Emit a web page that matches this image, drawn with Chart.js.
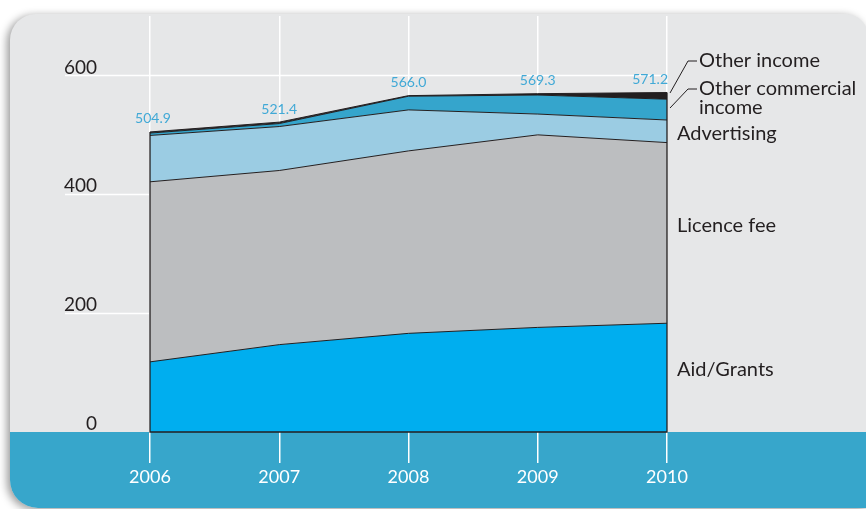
<!DOCTYPE html>
<html>
<head>
<meta charset="utf-8">
<script src="https://cdn.jsdelivr.net/npm/chart.js@4"></script>
<style>
  body { margin: 0; background: #fff; }
  canvas { display: block; }
</style>
</head>
<body>
<canvas id="AreaChart" width="866" height="509"></canvas>
<script>
// values (stacked, bottom to top)
const years = ['2006', '2007', '2008', '2009', '2010'];
const aidGrants = [118, 147, 166, 176, 183];
const licenceFee = [303, 293, 307, 324, 304];
const advertising = [78, 74, 69, 35, 38];
const otherCommercial = [4, 5, 23, 32, 35];
const otherIncome = [1.9, 2.4, 1, 2.3, 11.2];
const totals = ['504.9', '521.4', '566.0', '569.3', '571.2'];
const yTicks = [0, 200, 400, 600];

const ink = '#231f20';

const panelPlugin = {
    id: 'panel',
    beforeDraw(chart) {
        const c = chart.ctx;
        const area = chart.chartArea;
        c.save();
        // grey card with soft shadow
        c.beginPath();
        c.roundRect(10, 14, 858, 494, [26, 22, 0, 28]);
        c.shadowColor = 'rgba(0,0,0,0.4)';
        c.shadowBlur = 9;
        c.shadowOffsetX = -3;
        c.shadowOffsetY = 2;
        c.fillStyle = '#e6e7e8';
        c.fill();
        c.shadowColor = 'transparent';
        c.clip();
        // blue band under the plot
        c.fillStyle = '#37a6cb';
        c.fillRect(0, area.bottom, chart.width, chart.height - area.bottom);
        // horizontal grid lines
        const y = chart.scales.y;
        c.strokeStyle = '#ffffff';
        c.lineWidth = 1.5;
        yTicks.forEach(v => {
            if (v === 0) return;
            const py = Math.round(y.getPixelForValue(v)) + 0.5;
            c.beginPath();
            c.moveTo(65, py);
            c.lineTo(area.right, py);
            c.stroke();
        });
        c.restore();
    },
    afterDatasetsDraw(chart) {
        const c = chart.ctx;
        const area = chart.chartArea;
        const top = chart.getDatasetMeta(4).data;
        c.save();
        // outline of the stack
        c.strokeStyle = ink;
        c.lineWidth = 1.3;
        c.beginPath();
        c.moveTo(top[0].x, top[0].y);
        c.lineTo(top[0].x, area.bottom);
        c.lineTo(top[4].x, area.bottom);
        c.lineTo(top[4].x, top[4].y);
        c.stroke();
        // totals
        c.font = '14px Lato';
        c.fillStyle = '#41a9d6';
        c.textBaseline = 'bottom';
        totals.forEach((t, i) => {
            let x = top[i].x;
            c.textAlign = 'center';
            if (i === 0) x += 3;
            if (i === totals.length - 1) { c.textAlign = 'right'; x += 1; }
            c.fillText(t, x, top[i].y - 6);
        });
        // series names on the right
        const lx = area.right + 10;
        c.fillStyle = ink;
        c.font = '20px Lato';
        c.textAlign = 'left';
        c.textBaseline = 'middle';
        c.fillText('Other income', lx + 22, 61);
        c.fillText('Other commercial', lx + 22, 89);
        c.fillText('income', lx + 22, 108);
        c.fillText('Advertising', lx, 134);
        c.fillText('Licence fee', lx, 226);
        c.fillText('Aid/Grants', lx, 370);
        // leader lines
        c.lineWidth = 1;
        c.beginPath();
        c.moveTo(area.right + 3, 93);
        c.lineTo(area.right + 21, 61);
        c.lineTo(area.right + 30, 61);
        c.moveTo(area.right + 3, 108);
        c.lineTo(area.right + 21, 89);
        c.lineTo(area.right + 30, 89);
        c.stroke();
        c.restore();
    }
};

function series(label, data, color, fill) {
    return {
        label: label,
        data: data,
        backgroundColor: color,
        borderColor: ink,
        borderWidth: 1,
        pointRadius: 0,
        tension: 0,
        fill: fill
    };
}

const ctx = document.getElementById('AreaChart').getContext('2d');
new Chart(ctx, {
    type: 'line',
    data: {
        labels: years,
        datasets: [
            series('Aid/Grants', aidGrants, '#00aeef', 'origin'),
            series('Licence fee', licenceFee, '#bcbec0', '-1'),
            series('Advertising', advertising, '#9bcce3', '-1'),
            series('Other commercial income', otherCommercial, '#35a5cc', '-1'),
            series('Other income', otherIncome, '#231f20', '-1')
        ]
    },
    options: {
        responsive: false,
        devicePixelRatio: 1,
        animation: false,
        layout: { padding: { top: 16, right: 199, left: 0, bottom: 0 } },
        plugins: {
            legend: { display: false },
            tooltip: { enabled: false }
        },
        scales: {
            x: {
                offset: false,
                afterFit: s => { s.height = 77; },
                border: { display: false },
                grid: {
                    color: '#ffffff',
                    lineWidth: 1.5,
                    drawTicks: true,
                    tickLength: 31,
                    tickColor: '#ffffff'
                },
                ticks: {
                    color: '#ffffff',
                    font: { family: 'Lato', size: 18 },
                    padding: 3,
                    maxRotation: 0
                }
            },
            y: {
                stacked: true,
                min: 0,
                max: 700,
                afterFit: s => {
                    s.width = 150;
                    s.paddingTop = 0;
                    s.paddingBottom = 0;
                },
                afterBuildTicks: s => { s.ticks = yTicks.map(v => ({ value: v })); },
                border: { display: false },
                grid: { display: false, drawTicks: false },
                ticks: {
                    color: ink,
                    font: { family: 'Lato', size: 19 },
                    padding: 53,
                    labelOffset: -8
                }
            }
        }
    },
    plugins: [panelPlugin]
});
</script>
</body>
</html>
